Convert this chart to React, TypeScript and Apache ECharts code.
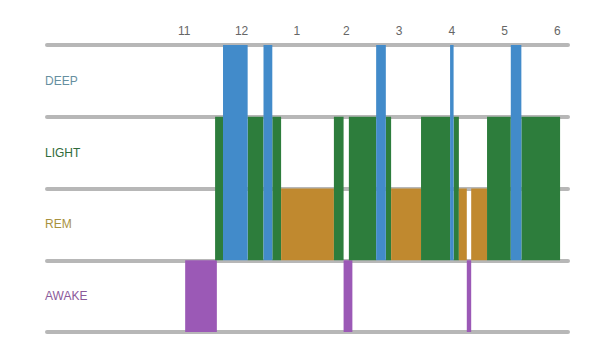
import React, { useEffect, useRef } from "react";
import * as echarts from "echarts";

// Sleep stages, bottom to top
const stageNames = ["AWAKE", "REM", "LIGHT", "DEEP"];
const stageLabelColors = ["#8b5a9b", "#a8913e", "#2f6b3b", "#668fa0"];
const stageBarColors = ["#9b59b6", "#c0892f", "#2d7d3c", "#428bca"];

// Hour ticks in minutes after 23:00
const hourTicks = [0, 60, 120, 180, 240, 300, 360, 420];
const hourLabels = ["11", "12", "1", "2", "3", "4", "5", "6"];

// Segments: start / end in minutes after 23:00, stage index
const segStart = [-3, 31, 40, 68, 86, 96, 106, 166, 177, 183, 214, 225, 231, 265, 298, 302, 308, 317, 322, 340, 367, 379];
const segEnd = [33, 40, 68, 86, 96, 106, 166, 177, 187, 214, 225, 231, 265, 298, 302, 308, 317, 322, 340, 367, 379, 423];
const segStage = [0, 2, 3, 2, 3, 2, 1, 2, 0, 2, 3, 2, 1, 2, 3, 2, 1, 0, 1, 2, 3, 2];

export default function App() {
  const ref = useRef<HTMLDivElement>(null);
  useEffect(() => {
    if (!ref.current) return;
    const chart = echarts.init(ref.current, null, { renderer: "svg" });
    const data = segStart.map((s, i) => [s, segEnd[i], segStage[i]]);
    chart.setOption({
      animation: false,
      grid: { left: 47, right: 39, top: 45, bottom: 23, containLabel: false },
      xAxis: {
        type: "value",
        position: "top",
        min: -160,
        max: 432,
        axisLine: { show: false },
        axisTick: { show: false },
        splitLine: { show: false },
        axisLabel: {
          customValues: hourTicks,
          formatter: (v: number) => {
            const i = hourTicks.indexOf(v);
            if (i < 0) return "";
            const style = i === 0 ? "l" : i === 1 ? "r1" : i === 2 ? "r2" : "n";
            return "{" + style + "|" + hourLabels[i] + "}";
          },
          color: "#666",
          fontSize: 12,
          fontFamily: "Liberation Sans, Arial, sans-serif",
          margin: 8,
          rich: {
            l: { padding: [0, 7, 0, 0], color: "#666", fontSize: 12, fontFamily: "Liberation Sans, Arial, sans-serif" },
            r1: { padding: [0, 0, 0, 2], color: "#666", fontSize: 12, fontFamily: "Liberation Sans, Arial, sans-serif" },
            r2: { padding: [0, 0, 0, 7], color: "#666", fontSize: 12, fontFamily: "Liberation Sans, Arial, sans-serif" },
            n: { color: "#666", fontSize: 12, fontFamily: "Liberation Sans, Arial, sans-serif" },
          },
        },
      },
      yAxis: [
        {
          type: "value",
          min: 0,
          max: 4,
          interval: 1,
          axisLine: { show: false },
          axisTick: { show: false },
          axisLabel: { show: false },
          splitLine: {
            show: true,
            lineStyle: { color: "#b7b7b7", width: 4, cap: "round" },
          },
        },
        {
          type: "category",
          data: stageNames,
          position: "left",
          axisLine: { show: false },
          axisTick: { show: false },
          splitLine: { show: false },
          axisLabel: {
            inside: true,
            margin: -2,
            fontSize: 12,
            fontFamily: "Liberation Sans, Arial, sans-serif",
            color: (_v: string, i: number) => stageLabelColors[i],
          },
        },
      ],
      series: [
        {
          type: "custom",
          xAxisIndex: 0,
          yAxisIndex: 0,
          data,
          encode: { x: [0, 1], y: 2 },
          renderItem: (_params: any, api: any) => {
            const s = api.value(0);
            const e = api.value(1);
            const st = api.value(2);
            const yTop = st === 0 ? 1 : st + 1;
            const yBot = st === 0 ? 0 : 1;
            const p0 = api.coord([s, yTop]);
            const p1 = api.coord([e, yBot]);
            return {
              type: "rect",
              shape: { x: p0[0], y: p0[1], width: p1[0] - p0[0], height: p1[1] - p0[1] },
              style: { fill: stageBarColors[st] },
              z2: st === 3 ? 10 : 1,
            };
          },
        },
      ],
    });
    return () => chart.dispose();
  }, []);
  return (
    <div
      ref={ref}
      style={{ position: "fixed", left: 0, top: 0, width: 607, height: 355, background: "#fff" }}
    />
  );
}
